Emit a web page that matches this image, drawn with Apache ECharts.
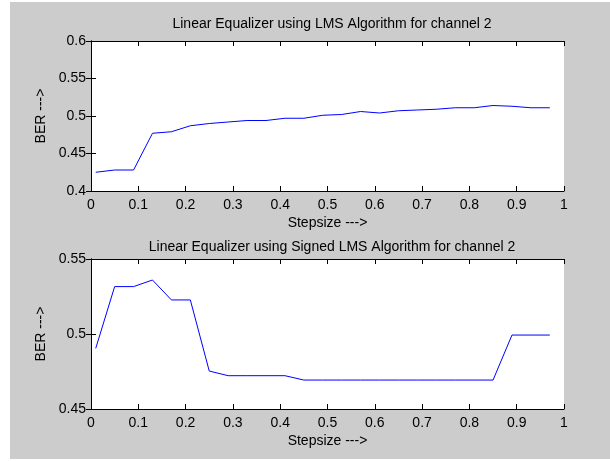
<!DOCTYPE html>
<html>
<head>
<meta charset="utf-8">
<script src="https://cdn.jsdelivr.net/npm/echarts@6/dist/echarts.min.js"></script>
<style>
  html, body { margin: 0; padding: 0; background: #fff; }
  #frame { position: absolute; left: 10px; top: 2px; width: 600px; height: 457px; background: #cccccc; }
  #main { width: 600px; height: 457px; }
</style>
</head>
<body>
<div id="frame"><div id="main"></div></div>
<script>
// step sizes used in both runs
var stepsize = [0.01, 0.05, 0.09, 0.13, 0.17, 0.21, 0.25, 0.29, 0.33, 0.37, 0.41, 0.45, 0.49,
                0.53, 0.57, 0.61, 0.65, 0.69, 0.73, 0.77, 0.81, 0.85, 0.89, 0.93, 0.97];
// BER, LMS
var berLms = [0.425, 0.428, 0.428, 0.477, 0.479, 0.487, 0.490, 0.492, 0.494, 0.494, 0.497, 0.497, 0.501,
              0.502, 0.506, 0.504, 0.507, 0.508, 0.509, 0.511, 0.511, 0.514, 0.513, 0.511, 0.511];
// BER, signed LMS
var berSigned = [0.4904, 0.5316, 0.5316, 0.536, 0.5227, 0.5227, 0.4753, 0.4722, 0.4722, 0.4722, 0.4722, 0.4693, 0.4693,
                 0.4693, 0.4693, 0.4693, 0.4693, 0.4693, 0.4693, 0.4693, 0.4693, 0.4693, 0.4993, 0.4993, 0.4993];

var titles = ['Linear Equalizer using LMS Algorithm for channel 2',
              'Linear Equalizer using Signed LMS Algorithm for channel 2'];
var xTicks = { min: 0, max: 1, interval: 0.1 };
var yTicksTop = { min: 0.4, max: 0.6, interval: 0.05 };
var yTicksBottom = { min: 0.45, max: 0.55, interval: 0.05 };

var font = 'Liberation Sans, Arial, sans-serif';
var fs = 14;

function pairs(xs, ys) {
    return xs.map(function (x, i) { return [x, ys[i]]; });
}

function xAxes(gi) {
    return [
        {
            type: 'value', gridIndex: gi, position: 'bottom',
            min: xTicks.min, max: xTicks.max, interval: xTicks.interval,
            name: 'Stepsize --->', nameLocation: 'middle', nameGap: 25,
            nameTextStyle: { color: '#000', fontSize: fs, fontFamily: font },
            axisLine: { lineStyle: { color: '#000' } },
            axisTick: { inside: true, length: 5, lineStyle: { color: '#000' } },
            axisLabel: { color: '#000', fontSize: fs, fontFamily: font, margin: 7 },
            splitLine: { show: false }
        },
        {
            type: 'value', gridIndex: gi, position: 'top',
            min: xTicks.min, max: xTicks.max, interval: xTicks.interval,
            axisLine: { lineStyle: { color: '#000' } },
            axisTick: { inside: true, length: 5, lineStyle: { color: '#000' } },
            axisLabel: { show: false },
            splitLine: { show: false }
        }
    ];
}

function yAxes(gi, t) {
    return [
        {
            type: 'value', gridIndex: gi, position: 'left',
            min: t.min, max: t.max, interval: t.interval,
            name: 'BER --->', nameLocation: 'middle', nameGap: 41,
            nameTextStyle: { color: '#000', fontSize: fs, fontFamily: font },
            axisLine: { show: true, lineStyle: { color: '#000' } },
            axisTick: { show: true, inside: true, length: 5, lineStyle: { color: '#000' } },
            axisLabel: { color: '#000', fontSize: fs, fontFamily: font, margin: 5 },
            splitLine: { show: false }
        },
        {
            type: 'value', gridIndex: gi, position: 'right',
            min: t.min, max: t.max, interval: t.interval,
            axisLine: { show: true, lineStyle: { color: '#000' } },
            axisTick: { show: true, inside: true, length: 5, lineStyle: { color: '#000' } },
            axisLabel: { show: false },
            splitLine: { show: false }
        }
    ];
}

var chart = echarts.init(document.getElementById('main'));
chart.setOption({
    animation: false,
    backgroundColor: 'transparent',
    title: [
        { text: titles[0], left: 317, top: 10, textAlign: 'center',
          textStyle: { color: '#000', fontSize: fs, fontWeight: 'normal', fontFamily: font } },
        { text: titles[1], left: 317, top: 233, textAlign: 'center',
          textStyle: { color: '#000', fontSize: fs, fontWeight: 'normal', fontFamily: font } }
    ],
    grid: [
        { left: 81, top: 39, width: 473, height: 150, show: true, backgroundColor: '#fff', borderWidth: 0 },
        { left: 81, top: 257, width: 473, height: 150, show: true, backgroundColor: '#fff', borderWidth: 0 }
    ],
    xAxis: xAxes(0).concat(xAxes(1)),
    yAxis: yAxes(0, yTicksTop).concat(yAxes(1, yTicksBottom)),
    series: [
        {
            type: 'line', xAxisIndex: 0, yAxisIndex: 0,
            data: pairs(stepsize, berLms),
            showSymbol: false, lineStyle: { color: '#0000ff', width: 1 }, itemStyle: { color: '#0000ff' }
        },
        {
            type: 'line', xAxisIndex: 2, yAxisIndex: 2,
            data: pairs(stepsize, berSigned),
            showSymbol: false, lineStyle: { color: '#0000ff', width: 1 }, itemStyle: { color: '#0000ff' }
        }
    ]
});
</script>
</body>
</html>
